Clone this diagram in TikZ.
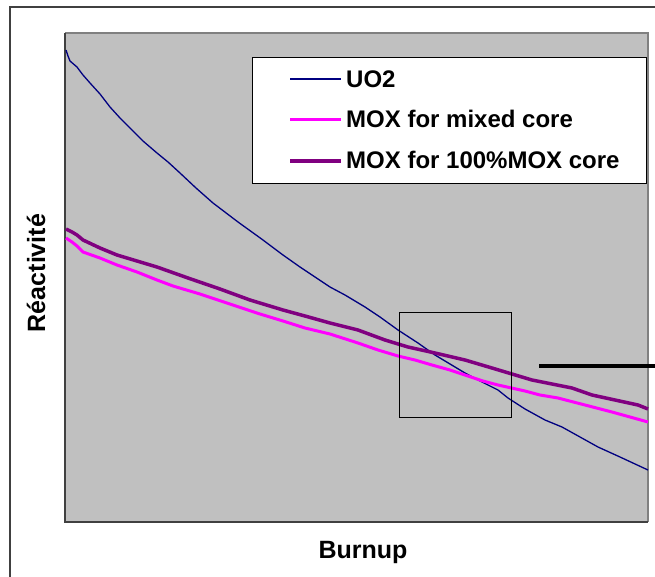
\documentclass[tikz,border=0pt]{standalone}
\usepackage{fontspec}
\setmainfont{Liberation Sans}
\begin{document}
\begin{tikzpicture}[x=1pt,y=-1pt,
  lbl/.style={font=\bfseries\fontsize{24}{28}\selectfont, text=black, inner sep=0pt},
  uo/.style={draw={rgb,255:red,0;green,0;blue,128}, line width=1.3pt, line join=round},
  moxm/.style={draw={rgb,255:red,255;green,0;blue,255}, line width=3pt, line join=round},
  moxf/.style={draw={rgb,255:red,128;green,0;blue,128}, line width=3.5pt, line join=round}]
\useasboundingbox (0,0) rectangle (655,576);
\fill[white] (0,0) rectangle (655,576);
% outer frame
\draw[line width=1.6pt, draw={rgb,255:red,64;green,64;blue,64}] (10,600) -- (10,7) -- (670,7);
% plot area
\fill[fill={rgb,255:red,192;green,192;blue,192}] (65,33) rectangle (648,522);
\draw[line width=1.2pt, draw={rgb,255:red,128;green,128;blue,128}] (65,33) -- (648,33) -- (648,522);
\draw[line width=1.4pt, draw={rgb,255:red,64;green,64;blue,64}] (65,33) -- (65,522) -- (648,522);
% curves
\draw[uo] (66,50) -- (68,56) -- (70,61) -- (77,67) -- (83,75) -- (90,83) -- (100,94) -- (110,107) -- (120,118) -- (130,128) -- (143,141) -- (157,153) -- (168,162) -- (180,173) -- (196,188) -- (213,203) -- (238,222) -- (263,240) -- (283,255) -- (300,267) -- (315,277) -- (330,287) -- (345,295) -- (365,307) -- (380,317) -- (398,330) -- (418,343) -- (435,355) -- (450,364) -- (465,373) -- (480,381) -- (498,390) -- (508,398) -- (525,409) -- (545,420) -- (562,427) -- (580,437) -- (598,447) -- (620,457) -- (648,470);
\draw[moxm] (66,238) -- (72,242) -- (77,246) -- (83,252) -- (100,258) -- (117,265) -- (137,272) -- (157,280) -- (173,286) -- (200,294) -- (230,304) -- (260,314) -- (283,321) -- (305,328) -- (330,334) -- (358,343) -- (378,350) -- (398,356) -- (415,360) -- (432,365) -- (450,370) -- (465,375) -- (483,381) -- (498,385) -- (525,391) -- (540,395) -- (558,398) -- (585,405) -- (612,412) -- (630,417) -- (648,422);
\draw[moxf] (66,229) -- (72,232) -- (77,235) -- (83,240) -- (100,248) -- (117,255) -- (137,261) -- (157,267) -- (188,278) -- (220,289) -- (250,300) -- (283,310) -- (305,316) -- (330,323) -- (358,330) -- (385,340) -- (408,347) -- (435,353) -- (465,360) -- (492,368) -- (512,374) -- (532,380) -- (552,384) -- (572,388) -- (592,395) -- (615,400) -- (638,405) -- (648,409);
% legend
\node[draw=black, line width=1pt, fill=white, minimum width=394pt, minimum height=126pt, inner sep=0pt, anchor=north west] (legend) at (252,57) {};
\coordinate (l1a) at (290,79); \coordinate (l1b) at (341,79);
\coordinate (l2a) at (290,119); \coordinate (l2b) at (341,119);
\coordinate (l3a) at (290,161); \coordinate (l3b) at (341,161);
\draw[uo] (l1a) -- (l1b);
\draw[moxm] (l2a) -- (l2b);
\draw[moxf] (l3a) -- (l3b);
\node[lbl, anchor=west] (t1) at (346,79) {UO2};
\node[lbl, anchor=west] (t2) at (346,119) {MOX for mixed core};
\node[lbl, anchor=west] (t3) at (346,160) {MOX for 100\%MOX core};
% zoom box
\node[draw=black, line width=1.1pt, minimum width=112pt, minimum height=105pt, inner sep=0pt, anchor=north west] (zbox) at (399,312) {};
% thick line
\coordinate (ta) at (539,366); \coordinate (tb) at (656,366);
\draw[line width=3.5pt, black] (ta) -- (tb);
% axis labels
\node[lbl, font=\bfseries\fontsize{25}{28}\selectfont] (xl) at (363,552) {Burnup};
\node[lbl, font=\bfseries\fontsize{25}{28}\selectfont, rotate=90] (yl) at (36,273) {Réactivité};
\end{tikzpicture}
\end{document}
